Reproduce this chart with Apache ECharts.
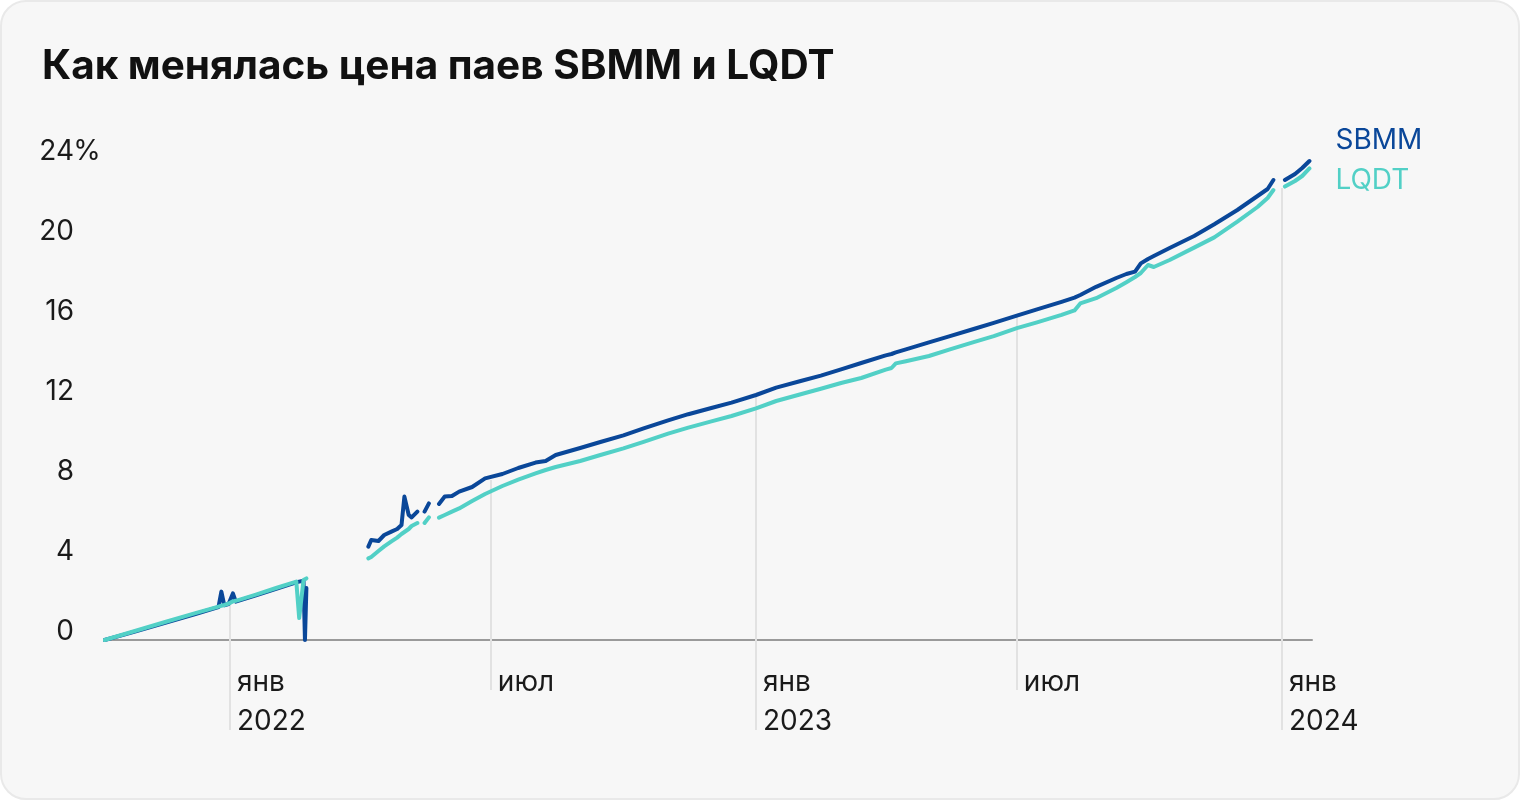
<!DOCTYPE html>
<html><head><meta charset="utf-8">
<script src="https://cdn.jsdelivr.net/npm/echarts@6/dist/echarts.min.js"></script>
<style>
html,body{margin:0;padding:0;background:#ffffff;}
#card{position:absolute;left:0;top:0;width:1516px;height:796px;background:#f7f7f7;border:2px solid #e9e9e9;border-radius:26px;overflow:hidden;}
#chart{position:absolute;left:-2px;top:-2px;width:1520px;height:800px;}
</style></head>
<body><div id="card"><div id="chart"></div></div>
<script>
const titleText = 'Как менялась цена паев SBMM и LQDT';
const dates = [
 '2021-10-06','2021-10-27','2021-11-17','2021-12-08','2021-12-24','2021-12-26','2021-12-28','2021-12-31',
 '2022-01-03','2022-01-05','2022-01-19','2022-02-02','2022-02-16','2022-02-18','2022-02-21','2022-02-22','2022-02-23',
 '2022-03-15',
 '2022-04-07','2022-04-09','2022-04-14','2022-04-18','2022-04-23','2022-04-27','2022-04-30','2022-05-02','2022-05-05','2022-05-07','2022-05-11',
 '2022-05-14',
 '2022-05-16','2022-05-19',
 '2022-05-22',
 '2022-05-26','2022-05-30','2022-06-04','2022-06-09','2022-06-18','2022-06-27','2022-07-09','2022-07-20','2022-08-01','2022-08-08','2022-08-15',
 '2022-09-01','2022-09-15','2022-10-01','2022-10-15','2022-11-01','2022-11-15','2022-12-01','2022-12-15',
 '2023-01-01','2023-01-15','2023-02-01','2023-02-15','2023-03-01','2023-03-15','2023-04-01','2023-04-05','2023-04-08',
 '2023-04-15','2023-05-01','2023-05-15','2023-06-01','2023-06-15','2023-07-01','2023-07-15','2023-08-01','2023-08-10',
 '2023-08-14','2023-08-25','2023-09-08','2023-09-15','2023-09-21','2023-09-25','2023-09-30','2023-10-04','2023-10-15',
 '2023-11-01','2023-11-15','2023-12-01','2023-12-15','2023-12-22','2023-12-26',
 '2023-12-29',
 '2024-01-03','2024-01-10','2024-01-15','2024-01-20'
];
const sbmm = [
 0,0.42,0.86,1.30,1.64,2.42,1.74,1.80,
 2.33,1.92,2.23,2.56,2.88,2.92,2.96,0.0,2.6,
 null,
 4.67,5.0,4.95,5.25,5.42,5.55,5.75,7.17,6.25,6.13,6.42,
 null,
 6.42,6.83,
 null,
 6.8,7.17,7.2,7.42,7.65,8.08,8.3,8.6,8.87,8.95,9.25,
 9.6,9.9,10.23,10.58,10.98,11.29,11.6,11.87,
 12.25,12.62,12.95,13.22,13.53,13.85,14.23,14.3,14.38,
 14.53,14.88,15.18,15.55,15.86,16.22,16.53,16.91,17.12,
 17.25,17.66,18.1,18.3,18.42,18.83,19.05,19.2,19.6,
 20.2,20.79,21.5,22.2,22.55,23.0,
 null,
 23.0,23.3,23.6,23.95
];
const lqdt = [
 0,0.45,0.90,1.34,1.67,1.71,1.75,1.82,
 1.93,1.96,2.27,2.60,2.92,1.1,3.0,3.04,3.08,
 null,
 4.08,4.15,4.45,4.68,4.93,5.12,5.3,5.4,5.55,5.7,5.85,
 null,
 5.85,6.13,
 null,
 6.12,6.25,6.42,6.58,6.95,7.3,7.7,8.02,8.33,8.5,8.65,
 8.95,9.25,9.58,9.91,10.32,10.62,10.93,11.2,
 11.58,11.95,12.29,12.56,12.85,13.1,13.52,13.6,13.83,
 13.94,14.2,14.52,14.89,15.19,15.59,15.88,16.26,16.48,
 16.83,17.09,17.6,17.89,18.15,18.35,18.75,18.65,19.0,
 19.62,20.13,20.92,21.65,22.1,22.5,
 null,
 22.67,22.95,23.2,23.58
];
const janTicks = ['2022-01-01','2023-01-01','2024-01-01'];
const julTicks = ['2022-07-01','2023-07-01'];
const labelTicks = ['2022-01-01','2022-07-01','2023-01-01','2023-07-01','2024-01-01'];
const dropTops = [1.85, 8.0, 12.15, 16.2, 22.6];
const monthNames = {0:'янв',6:'июл'};
const xMin = '2021-10-06T06:00:00';
const xMax = '2024-01-21T19:00:00';

const FONT = 'Inter';
const cS = '#0a4799', cL = '#52d0c6', cGrid = '#e2e2e2', cText = '#1a1a1a';
const ts = s => new Date(s.length===10 ? s+'T00:00:00' : s).getTime();

const chart = echarts.init(document.getElementById('chart'));
const pair = arr => dates.map((d,i)=>[ts(d), arr[i]]);
const dropData = labelTicks.map((d,i)=>[{coord:[ts(d), dropTops[i]]},{coord:[ts(d), 0]}]);

const xBase = {type:'value', min:ts(xMin), max:ts(xMax), position:'bottom', gridIndex:0, splitLine:{show:false}};
chart.setOption({
  animation:false,
  backgroundColor:'transparent',
  title:{text:titleText, left:37, top:41, textStyle:{fontFamily:FONT, fontWeight:700, fontSize:40.5, color:'#111'}},
  grid:{left:105, right:208, top:160, bottom:160},
  xAxis:[
    Object.assign({}, xBase, {
      axisLine:{show:true, lineStyle:{color:'#9a9a9a', width:2}},
      axisTick:{show:true, customValues:janTicks.map(ts), length:90, lineStyle:{color:cGrid, width:2}},
      axisLabel:{show:true, customValues:labelTicks.map(ts), align:'left', margin:23, padding:[0,0,0,7],
        fontFamily:FONT, fontSize:28, lineHeight:39, color:cText,
        formatter:function(v){const d=new Date(v);const m=monthNames[d.getMonth()]; return d.getMonth()===0? m+'\n'+d.getFullYear() : m;}}
    }),
    Object.assign({}, xBase, {
      axisLine:{show:false},
      axisTick:{show:true, customValues:julTicks.map(ts), length:50, lineStyle:{color:cGrid, width:2}},
      axisLabel:{show:false}
    })
  ],
  yAxis:{type:'value', min:0, max:24, interval:4,
    axisLine:{show:false}, axisTick:{show:false}, splitLine:{show:false},
    axisLabel:{margin:5, align:'right', padding:[0,0,16,0], fontFamily:FONT, fontSize:28, color:cText,
      formatter:function(v){return v===24 ? '{n|24}{p|%}' : '{n|'+v+'}{h|%}';},
      rich:{
        n:{fontFamily:FONT, fontSize:28, color:cText},
        p:{fontFamily:FONT, fontSize:28, color:cText, width:26, align:'left'},
        h:{fontFamily:FONT, fontSize:28, color:'rgba(0,0,0,0)', width:26, align:'left'}
      }
    }
  },
  series:[
    {name:'SBMM', type:'line', data:pair(sbmm), showSymbol:false, symbol:'none', clip:false, z:3,
     lineStyle:{color:cS, width:4, cap:'round', join:'round'}, itemStyle:{color:cS},
     endLabel:{show:true, formatter:'{a}', offset:[18,-20], fontFamily:FONT, fontSize:28, color:cS},
     markLine:{silent:true, z:1, symbol:['none','none'], label:{show:false}, lineStyle:{color:cGrid, width:2, type:'solid'}, data:dropData}
    },
    {name:'LQDT', type:'line', data:pair(lqdt), showSymbol:false, symbol:'none', clip:false, z:4,
     lineStyle:{color:cL, width:4, cap:'round', join:'round'}, itemStyle:{color:cL},
     endLabel:{show:true, formatter:'{a}', offset:[18,12], fontFamily:FONT, fontSize:28, color:cL}
    }
  ]
});
</script></body></html>
